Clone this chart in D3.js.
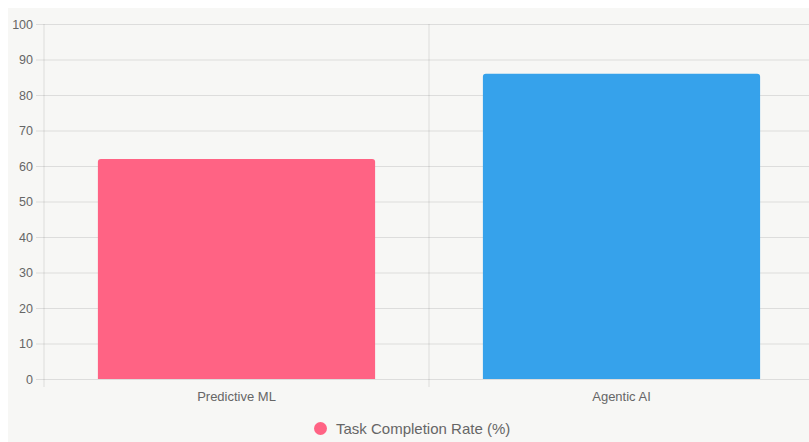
<!DOCTYPE html>
<html><head><meta charset="utf-8">
<script src="https://cdn.jsdelivr.net/npm/d3@7"></script>
<style>html,body{margin:0;padding:0;background:#fff;overflow:hidden}svg{display:block}</style>
</head><body>
<script>
const categories = ["Predictive ML", "Agentic AI"];
const values = [62, 86];
const barColors = ["#ff6384", "#36a2eb"];
const seriesName = "Task Completion Rate (%)";
const yTicks = [0,10,20,30,40,50,60,70,80,90,100];

(function(){
const W = 809, H = 442;
const svg = d3.select("body").append("svg").attr("width", W).attr("height", H);
svg.append("rect").attr("x", 8).attr("y", 8).attr("width", W - 8).attr("height", H - 8).attr("fill", "#f7f7f5");

const pL = 44, pR = 814, pT = 24, pB = 379;
const x = d3.scaleBand().domain(categories).range([pL, pR]).paddingInner(0).paddingOuter(0);
const y = d3.scaleLinear().domain([0, 100]).range([pB, pT]);
const grid = "rgba(0,0,0,0.1)";
const font = "'Liberation Sans', Arial, Helvetica, sans-serif";

// horizontal grid + y ticks
const yAxis = svg.append("g").attr("transform", `translate(${pL},0)`)
  .call(d3.axisLeft(y).tickValues(yTicks).tickSize(8).tickPadding(3));
yAxis.select(".domain").remove();
yAxis.selectAll(".tick line").attr("stroke", grid).attr("x2", -8).clone()
  .attr("x1", 0).attr("x2", pR - pL);
yAxis.selectAll(".tick text").attr("fill", "#666").style("font", `12.5px ${font}`);

// vertical grid lines at category boundaries
const bounds = [pL, pL + x.bandwidth(), pR];
svg.append("g").selectAll("line").data(bounds).join("line")
  .attr("x1", d => d).attr("x2", d => d).attr("y1", pT).attr("y2", pB + 8)
  .attr("stroke", grid);

// x labels
const xAxis = svg.append("g").attr("transform", `translate(0,${pB})`)
  .call(d3.axisBottom(x).tickSize(0).tickPadding(13));
xAxis.select(".domain").remove();
xAxis.selectAll(".tick text").attr("fill", "#666").style("font", `13px ${font}`);

// bars
const bw = x.bandwidth() * 0.72;
const r = 3;
svg.append("g").selectAll("path").data(categories).join("path")
  .attr("fill", (d, i) => barColors[i])
  .attr("d", (d, i) => {
    const x0 = x(d) + (x.bandwidth() - bw) / 2, x1 = x0 + bw;
    const y0 = y(values[i]), y1 = y(0);
    return `M${x0},${y1}V${y0 + r}Q${x0},${y0} ${x0 + r},${y0}H${x1 - r}Q${x1},${y0} ${x1},${y0 + r}V${y1}Z`;
  });

// legend
const lg = svg.append("g");
lg.append("circle").attr("cx", 320.5).attr("cy", 428.5).attr("r", 6.5).attr("fill", barColors[0]);
lg.append("text").attr("x", 336).attr("y", 434).attr("fill", "#666")
  .style("font", `15px ${font}`).text(seriesName);
})();
</script>
</body></html>
